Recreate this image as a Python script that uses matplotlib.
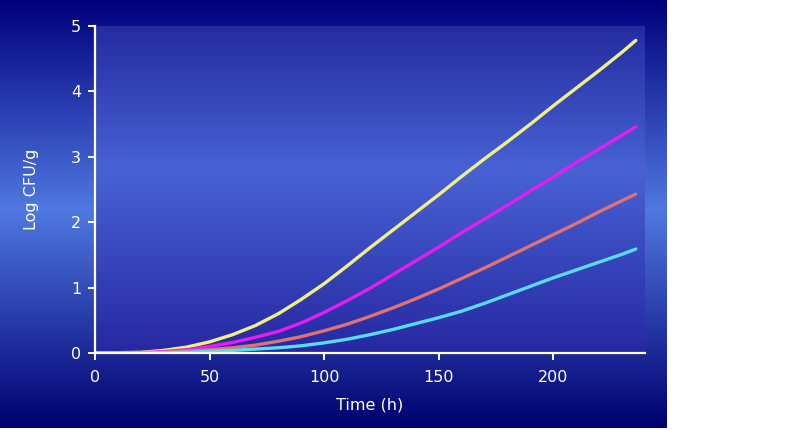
import numpy as np
import matplotlib
matplotlib.use("Agg")
import matplotlib.pyplot as plt
from matplotlib.colors import LinearSegmentedColormap

# ---- data ----
time_h = [0, 20, 30, 40, 50, 60, 70, 80, 90, 100, 110, 120, 130, 140, 150,
          160, 170, 180, 190, 200, 210, 220, 230, 236]
yellow = [0, 0.01, 0.04, 0.09, 0.17, 0.28, 0.42, 0.60, 0.82, 1.06, 1.33, 1.61,
          1.88, 2.15, 2.42, 2.70, 2.97, 3.23, 3.50, 3.78, 4.05, 4.32, 4.60, 4.78]
magenta = [0, 0.005, 0.02, 0.05, 0.10, 0.16, 0.24, 0.33, 0.46, 0.62, 0.80, 0.99,
           1.20, 1.41, 1.62, 1.84, 2.05, 2.26, 2.48, 2.69, 2.91, 3.12, 3.33, 3.46]
salmon = [0, 0.003, 0.01, 0.03, 0.05, 0.08, 0.12, 0.18, 0.25, 0.34, 0.44, 0.56,
          0.69, 0.83, 0.98, 1.14, 1.30, 1.47, 1.64, 1.81, 1.98, 2.16, 2.33, 2.43]
cyan = [0, 0.002, 0.005, 0.012, 0.025, 0.04, 0.06, 0.08, 0.11, 0.155, 0.21, 0.28,
        0.36, 0.45, 0.54, 0.64, 0.76, 0.89, 1.02, 1.15, 1.27, 1.39, 1.51, 1.59]

series = [yellow, magenta, salmon, cyan]
colors = ["#f0f082", "#e41ef0", "#e07272", "#5adcf0"]

xticks = [0, 50, 100, 150, 200]
yticks = [0, 1, 2, 3, 4, 5]
xlabel = "Time (h)"
ylabel = "Log CFU/g"

W, H = 797, 430
fig = plt.figure(figsize=(W / 100, H / 100), dpi=100, facecolor="white")

# figure background gradient (blue panel)
bg = fig.add_axes([0, 2 / H, 667 / W, 428 / H], zorder=0)
bg_cmap = LinearSegmentedColormap.from_list(
    "bg", [(0.0, (0 / 255, 0 / 255, 125 / 255)),
           (0.49, (80 / 255, 120 / 255, 225 / 255)),
           (1.0, (0 / 255, 0 / 255, 112 / 255))])
grad = np.linspace(0, 1, 256).reshape(-1, 1)
bg.imshow(grad, aspect="auto", cmap=bg_cmap, extent=[0, 1, 1, 0])
bg.set_axis_off()

# main axes
x0, x1 = 95, 645
y0, y1 = 26, 353
ax = fig.add_axes([x0 / W, (H - y1) / H, (x1 - x0) / W, (y1 - y0) / H], zorder=1)
ax.set_xlim(0, 240)
ax.set_ylim(0, 5)

pa_cmap = LinearSegmentedColormap.from_list(
    "pa", [(0.0, (38 / 255, 40 / 255, 162 / 255)),
           (0.56, (72 / 255, 98 / 255, 212 / 255)),
           (1.0, (36 / 255, 44 / 255, 160 / 255))])
ax.imshow(grad, aspect="auto", cmap=pa_cmap, extent=[0, 1, 1, 0],
          transform=ax.transAxes, zorder=0)

for vals, c in zip(series, colors):
    ax.plot(time_h, vals, color=c, lw=2.4, solid_capstyle="round", zorder=3)

ax.set_facecolor("none")
for s in ["top", "right"]:
    ax.spines[s].set_visible(False)
for s in ["left", "bottom"]:
    ax.spines[s].set_color("white")
    ax.spines[s].set_linewidth(1.6)
    ax.spines[s].set_zorder(4)

ax.set_xticks(xticks)
ax.set_yticks(yticks)
ax.tick_params(axis="both", colors="white", width=1.4, length=5,
               labelsize=11.5, direction="out")
ax.tick_params(axis="x", pad=7)
ax.tick_params(axis="y", pad=5)

ax.set_xlabel(xlabel, color="white", fontsize=11.5, labelpad=9)
ax.set_ylabel(ylabel, color="white", fontsize=11.5, labelpad=23)

fig.savefig("out.png", dpi=100, facecolor="white")
